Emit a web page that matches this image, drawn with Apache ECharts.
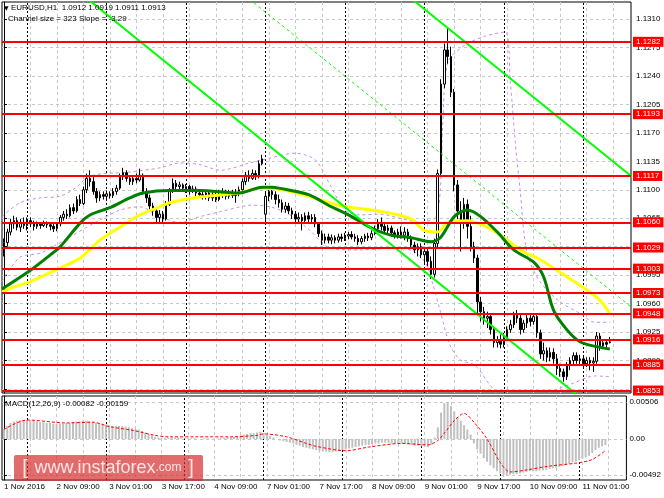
<!DOCTYPE html>
<html><head><meta charset="utf-8">
<script src="https://cdn.jsdelivr.net/npm/echarts@6/dist/echarts.min.js"></script>
<style>html,body{margin:0;padding:0;background:#fff}#c{width:664px;height:498px}</style>
</head><body><div id="c"></div>
<script>
// ---- data (bar index = hour since 1 Nov 17:00, H1 bars) ----
const opens = [1.1022,1.1035,1.1048,1.1058,1.1062,1.1054,1.1060,1.1056,1.1062,1.1058,1.1055,1.1058,1.1056,1.1059,1.1057,1.1055,1.1052,1.1058,1.1066,1.1070,1.1068,1.1078,1.1074,1.1088,1.1083,1.1100,1.1114,1.1110,1.1098,1.1090,1.1094,1.1092,1.1095,1.1093,1.1098,1.1102,1.1116,1.1121,1.1114,1.1110,1.1114,1.1112,1.1118,1.1098,1.1090,1.1080,1.1074,1.1066,1.1070,1.1064,1.1082,1.1098,1.1108,1.1104,1.1106,1.1102,1.1104,1.1099,1.1101,1.1096,1.1094,1.1092,1.1096,1.1090,1.1094,1.1088,1.1093,1.1096,1.1092,1.1097,1.1093,1.1096,1.1100,1.1110,1.1118,1.1114,1.1120,1.1116,1.1132,1.1070,1.1092,1.1098,1.1094,1.1088,1.1084,1.1076,1.1080,1.1074,1.1070,1.1064,1.1066,1.1062,1.1068,1.1064,1.1066,1.1058,1.1046,1.1038,1.1042,1.1038,1.1041,1.1038,1.1042,1.1040,1.1043,1.1045,1.1042,1.1040,1.1036,1.1040,1.1043,1.1041,1.1046,1.1052,1.1060,1.1055,1.1050,1.1053,1.1047,1.1044,1.1048,1.1044,1.1048,1.1040,1.1032,1.1026,1.1030,1.1020,1.1024,1.1012,1.0996,1.1034,1.1120,1.1230,1.1272,1.1264,1.1220,1.1106,1.1074,1.1062,1.1082,1.1055,1.1030,1.1016,1.0962,1.0950,1.0942,1.0944,1.0928,1.0912,1.0915,1.0910,1.0918,1.0928,1.0934,1.0946,1.0942,1.0928,1.0936,1.0942,1.0938,1.0944,1.0924,1.0898,1.0902,1.0894,1.0900,1.0892,1.0880,1.0876,1.0870,1.0884,1.0890,1.0896,1.0890,1.0892,1.0886,1.0890,1.0887,1.0889,1.0920,1.0908,1.0912,1.0912];
const closes = [1.1035,1.1048,1.1058,1.1062,1.1054,1.1060,1.1056,1.1062,1.1058,1.1055,1.1058,1.1056,1.1059,1.1057,1.1055,1.1052,1.1058,1.1066,1.1070,1.1068,1.1078,1.1074,1.1088,1.1083,1.1100,1.1114,1.1110,1.1098,1.1090,1.1094,1.1092,1.1095,1.1093,1.1098,1.1102,1.1116,1.1121,1.1114,1.1110,1.1114,1.1112,1.1118,1.1098,1.1090,1.1080,1.1074,1.1066,1.1070,1.1064,1.1082,1.1098,1.1108,1.1104,1.1106,1.1102,1.1104,1.1099,1.1101,1.1096,1.1094,1.1092,1.1096,1.1090,1.1094,1.1088,1.1093,1.1096,1.1092,1.1097,1.1093,1.1096,1.1100,1.1110,1.1118,1.1114,1.1120,1.1116,1.1132,1.1138,1.1092,1.1098,1.1094,1.1088,1.1084,1.1076,1.1080,1.1074,1.1070,1.1064,1.1066,1.1062,1.1068,1.1064,1.1066,1.1058,1.1046,1.1038,1.1042,1.1038,1.1041,1.1038,1.1042,1.1040,1.1043,1.1045,1.1042,1.1040,1.1036,1.1040,1.1043,1.1041,1.1046,1.1052,1.1060,1.1055,1.1050,1.1053,1.1047,1.1044,1.1048,1.1044,1.1048,1.1040,1.1032,1.1026,1.1030,1.1020,1.1024,1.1012,1.0996,1.1034,1.1120,1.1230,1.1272,1.1264,1.1220,1.1106,1.1074,1.1062,1.1082,1.1055,1.1030,1.1016,1.0962,1.0950,1.0942,1.0944,1.0928,1.0912,1.0915,1.0910,1.0918,1.0928,1.0934,1.0946,1.0942,1.0928,1.0936,1.0942,1.0938,1.0944,1.0924,1.0898,1.0902,1.0894,1.0900,1.0892,1.0880,1.0876,1.0870,1.0884,1.0890,1.0896,1.0890,1.0892,1.0886,1.0890,1.0887,1.0889,1.0920,1.0908,1.0912,1.0910,1.0913];
const highs = [1.1040,1.1052,1.1064,1.1068,1.1066,1.1064,1.1066,1.1066,1.1066,1.1062,1.1061,1.1060,1.1062,1.1061,1.1060,1.1058,1.1060,1.1069,1.1074,1.1076,1.1082,1.1083,1.1092,1.1094,1.1104,1.1120,1.1124,1.1116,1.1102,1.1098,1.1098,1.1099,1.1098,1.1102,1.1106,1.1120,1.1127,1.1124,1.1118,1.1118,1.1120,1.1126,1.1120,1.1102,1.1094,1.1084,1.1078,1.1075,1.1074,1.1086,1.1102,1.1114,1.1112,1.1110,1.1108,1.1107,1.1106,1.1105,1.1104,1.1100,1.1098,1.1099,1.1098,1.1098,1.1097,1.1100,1.1102,1.1100,1.1100,1.1100,1.1101,1.1104,1.1114,1.1122,1.1124,1.1125,1.1124,1.1136,1.1143,1.1098,1.1104,1.1103,1.1098,1.1094,1.1088,1.1085,1.1084,1.1078,1.1074,1.1072,1.1070,1.1072,1.1073,1.1070,1.1070,1.1060,1.1050,1.1046,1.1046,1.1045,1.1044,1.1046,1.1046,1.1047,1.1048,1.1049,1.1046,1.1044,1.1043,1.1046,1.1047,1.1050,1.1056,1.1064,1.1066,1.1060,1.1057,1.1056,1.1050,1.1052,1.1055,1.1054,1.1052,1.1044,1.1036,1.1034,1.1034,1.1028,1.1028,1.1018,1.1040,1.1125,1.1236,1.1280,1.1299,1.1276,1.1224,1.1112,1.1086,1.1090,1.1088,1.1068,1.1036,1.1020,1.0968,1.0956,1.0950,1.0948,1.0932,1.0920,1.0922,1.0924,1.0932,1.0940,1.0950,1.0952,1.0946,1.0940,1.0946,1.0946,1.0948,1.0946,1.0928,1.0912,1.0906,1.0906,1.0905,1.0898,1.0886,1.0880,1.0888,1.0894,1.0900,1.0900,1.0897,1.0896,1.0894,1.0894,1.0894,1.0925,1.0924,1.0916,1.0915,1.0919];
const lows = [1.1018,1.1030,1.1044,1.1052,1.1050,1.1048,1.1052,1.1050,1.1054,1.1050,1.1052,1.1052,1.1054,1.1053,1.1050,1.1048,1.1049,1.1055,1.1062,1.1064,1.1066,1.1070,1.1072,1.1080,1.1081,1.1096,1.1104,1.1094,1.1084,1.1086,1.1088,1.1088,1.1089,1.1090,1.1094,1.1100,1.1112,1.1110,1.1106,1.1106,1.1108,1.1110,1.1094,1.1084,1.1076,1.1068,1.1060,1.1058,1.1058,1.1062,1.1080,1.1096,1.1100,1.1100,1.1098,1.1096,1.1094,1.1096,1.1092,1.1090,1.1088,1.1088,1.1086,1.1086,1.1085,1.1086,1.1090,1.1088,1.1089,1.1090,1.1084,1.1092,1.1098,1.1106,1.1110,1.1112,1.1112,1.1114,1.1130,1.1060,1.1086,1.1088,1.1082,1.1078,1.1072,1.1072,1.1070,1.1064,1.1058,1.1060,1.1050,1.1058,1.1060,1.1058,1.1054,1.1042,1.1032,1.1034,1.1034,1.1033,1.1034,1.1035,1.1036,1.1037,1.1039,1.1039,1.1036,1.1032,1.1033,1.1036,1.1037,1.1038,1.1044,1.1050,1.1050,1.1046,1.1045,1.1043,1.1040,1.1040,1.1040,1.1038,1.1036,1.1028,1.1022,1.1018,1.1016,1.1010,1.1006,1.0990,1.0992,1.1028,1.1116,1.1225,1.1255,1.1214,1.1098,1.1064,1.1024,1.1052,1.1040,1.1024,1.1010,1.0948,1.0938,1.0934,1.0930,1.0922,1.0906,1.0906,1.0905,1.0906,1.0914,1.0924,1.0930,1.0936,1.0922,1.0924,1.0930,1.0932,1.0934,1.0918,1.0892,1.0890,1.0888,1.0889,1.0886,1.0872,1.0870,1.0864,1.0866,1.0878,1.0884,1.0886,1.0884,1.0882,1.0882,1.0878,1.0876,1.0886,1.0902,1.0904,1.0905,1.0911];
const macdHist = [0.0014,0.0018,0.0022,0.0024,0.0025,0.0026,0.0026,0.0026,0.0025,0.0025,0.0024,0.0023,0.0023,0.0022,0.0022,0.0021,0.0021,0.0021,0.0021,0.0022,0.0022,0.0023,0.0024,0.0024,0.0025,0.0025,0.0024,0.0023,0.0022,0.0022,0.0021,0.0020,0.0019,0.0018,0.0018,0.0018,0.0018,0.0017,0.0016,0.0015,0.0014,0.0013,0.0011,0.0009,0.0007,0.0005,0.0003,0.0002,0.0001,0.0001,0.0002,0.0002,0.0002,0.0002,0.0001,0.0001,0.0001,0.0001,0.0001,0.0000,0.0000,0.0001,0.0001,0.0000,0.0000,0.0001,0.0001,0.0002,0.0002,0.0003,0.0003,0.0004,0.0005,0.0006,0.0007,0.0008,0.0008,0.0009,0.0010,0.0008,0.0006,0.0004,0.0002,0.0000,-0.0002,-0.0003,-0.0004,-0.0005,-0.0006,-0.0008,-0.0009,-0.0011,-0.0012,-0.0013,-0.0014,-0.0015,-0.0016,-0.0017,-0.0017,-0.0018,-0.0018,-0.0017,-0.0016,-0.0015,-0.0014,-0.0013,-0.0012,-0.0011,-0.0010,-0.0009,-0.0008,-0.0008,-0.0007,-0.0006,-0.0006,-0.0005,-0.0005,-0.0005,-0.0006,-0.0006,-0.0006,-0.0006,-0.0007,-0.0007,-0.0008,-0.0009,-0.0009,-0.0010,-0.0010,-0.0011,-0.0008,0.0002,0.0016,0.0036,0.0049,0.00506,0.0045,0.0038,0.0030,0.0025,0.0019,0.0013,0.0006,-0.0006,-0.0014,-0.0020,-0.0026,-0.0031,-0.0036,-0.0040,-0.0044,-0.0047,-0.0049,-0.00492,-0.0049,-0.0048,-0.0048,-0.0047,-0.0046,-0.0045,-0.0044,-0.0044,-0.0044,-0.0043,-0.0043,-0.0042,-0.0041,-0.0040,-0.0039,-0.0038,-0.0037,-0.0035,-0.0034,-0.0032,-0.0031,-0.0029,-0.0027,-0.0025,-0.0023,-0.0019,-0.0015,-0.0012,-0.0010,-0.00082];
const macdSignal = [[0,0.0013],[7,0.0026],[19,0.0022],[27,0.0023],[32,0.0017],[39,0.0012],[46,0.0005],[50,0.0003],[59,0.0003],[69,0.0003],[77,0.0005],[79,0.0007],[86,0.0003],[92,-0.0006],[95,-0.0010],[104,-0.0016],[111,-0.0011],[121,-0.0006],[129,-0.0008],[132,-0.0002],[134,0.0008],[137,0.0025],[140,0.0035],[143,0.0023],[147,0.0000],[151,-0.0032],[154,-0.0045],[158,-0.0043],[166,-0.0037],[174,-0.0033],[179,-0.0028],[183,-0.00159]];
const maGreen = [[-0.6,1.0978],[8,1.1001],[14,1.1020],[17,1.1030],[23,1.1059],[26,1.1069],[32,1.1078],[38,1.1090],[42,1.1096],[50,1.1099],[59,1.1099],[71,1.1096],[78,1.1103],[81,1.1103],[83,1.1102],[92,1.1094],[98,1.1081],[105,1.1067],[111,1.1053],[117,1.1044],[123,1.1041],[129,1.1036],[132,1.1042],[136,1.1067],[140,1.1075],[144,1.1067],[149,1.1048],[154,1.1026],[160,1.1011],[163,1.0993],[166,1.0952],[170,1.0928],[174,1.0913],[179,1.0907],[183,1.0904]];
const maYellow = [[-0.6,1.0974],[2,1.0979],[8,1.0987],[17,1.1004],[23,1.1016],[29,1.1038],[35,1.1054],[41,1.1069],[47,1.1079],[50,1.1084],[59,1.1091],[71,1.1096],[77,1.1102],[83,1.1101],[92,1.1092],[101,1.1081],[111,1.1075],[117,1.1071],[123,1.1064],[127,1.1050],[131,1.1048],[134,1.1060],[140,1.1062],[146,1.1054],[152,1.1038],[156,1.1026],[162,1.1014],[170,1.0993],[176,1.0977],[180,1.0964],[183,1.0948]];
const bandUpper = [[-0.6,1.1067],[4.8,1.1084],[10.9,1.1090],[16.9,1.1092],[21.5,1.1102],[26,1.1117],[38.1,1.1122],[47.1,1.1127],[53.2,1.1133],[59.2,1.1131],[65.3,1.1124],[74.3,1.1133],[80.4,1.1139],[87.9,1.1145],[94,1.1137],[98.5,1.1106],[103,1.1075],[107.6,1.1069],[113.6,1.1070],[119.6,1.1065],[125.7,1.1060],[130.8,1.1069],[132.6,1.1186],[134.1,1.1257],[139.3,1.1278],[145.3,1.1289],[151.4,1.1294],[152.9,1.1235],[154.4,1.1161],[155.9,1.1100],[158,1.1022],[161.9,1.0987],[168,1.0962],[174,1.0948],[178.5,1.0937],[183.1,1.0937]];
const bandLower = [[-0.6,1.0987],[4.8,1.1017],[10.9,1.1022],[19.9,1.1042],[29,1.1063],[35,1.1075],[41.1,1.1079],[47.1,1.1067],[53.2,1.1060],[59.2,1.1067],[65.3,1.1073],[71.3,1.1079],[74.3,1.1081],[80.4,1.1079],[86.4,1.1069],[92.4,1.1050],[98.5,1.1028],[107.6,1.1026],[116.6,1.1028],[122.7,1.1026],[127.2,1.1011],[129.6,1.0983],[131.7,1.0952],[134.7,1.0909],[137.8,1.0891],[142.3,1.0884],[146.8,1.0860],[151.4,1.0841],[155.9,1.0841],[161.9,1.0847],[166.5,1.0854],[171.9,1.0862],[178.5,1.0871],[183.1,1.0870]];
const levels = [1.1282,1.1193,1.1117,1.1060,1.1029,1.1003,1.0973,1.0948,1.0916,1.0885,1.0853];
const lastPrice = 1.0913;
const lowerChannel = [[20,1.1352],[180,1.0825]];
const midChannel = [[60,1.1381],[190,1.0954]];
const upperChannel = [[100,1.1411],[190,1.1115]];
const priceTicks = [1.0855,1.0890,1.0925,1.0960,1.0995,1.1030,1.1065,1.1100,1.1135,1.1170,1.1205,1.1240,1.1275,1.1310];
const macdTicks = [-0.00492,0,0.00506];
const dateLabels = ['1 Nov 2016','2 Nov 09:00','3 Nov 01:00','3 Nov 17:00','4 Nov 09:00','7 Nov 01:00','7 Nov 17:00','8 Nov 09:00','9 Nov 01:00','9 Nov 17:00','10 Nov 09:00','11 Nov 01:00'];
const dateLabelBars = [0,16,32,48,64,80,96,112,128,144,160,176];
const daySeparatorBars = [7,31,55,79,103,127,151,175];

// ---- chart ----
const FONT = 'Liberation Sans';
const gridBars = [];
for (let b = 0; b <= 184; b += 8) gridBars.push(b);
const candles = opens.map((o, i) => [i, o, closes[i], lows[i], highs[i]]);
const dash = {color: '#c8c8c8', width: 1, type: [3, 3]};
const sepLine = {color: '#000', width: 1, type: [2, 2]};
const boxLabel = (bg) => ({position: 'end', distance: 2, formatter: p => Number(p.value).toFixed(4), color: '#fff', backgroundColor: bg,
  padding: [1, 3, 0, 3], fontSize: 8, fontFamily: FONT, lineHeight: 9});

const chart = echarts.init(document.getElementById('c'), null, {renderer: 'canvas'});
const xBase = {type: 'value', min: -0.6, max: 189.4, axisLine: {show: false},
  axisTick: {show: false, customValues: gridBars}, splitLine: {show: true, lineStyle: dash}};
chart.setOption({
  animation: false,
  backgroundColor: '#fff',
  textStyle: {fontFamily: FONT},
  grid: [
    {left: 2, right: 33, top: 2, height: 391, show: true, borderColor: '#000', borderWidth: 1},
    {left: 2, right: 33, top: 396, height: 84, show: true, borderColor: '#000', borderWidth: 1}
  ],
  xAxis: [
    Object.assign({}, xBase, {gridIndex: 0, axisLabel: {show: false}}),
    Object.assign({}, xBase, {gridIndex: 1, axisLabel: {show: true, customValues: dateLabelBars, align: 'left', fontSize: 8, fontFamily: FONT, color: '#000', margin: 3,
      formatter: v => dateLabels[dateLabelBars.indexOf(Math.round(v))] || ''}})
  ],
  yAxis: [
    {type: 'value', gridIndex: 0, position: 'right', min: 1.0850, max: 1.1331,
     axisLine: {show: true, lineStyle: {color: '#000'}},
     axisTick: {show: true, customValues: priceTicks, length: 3, lineStyle: {color: '#000'}},
     axisLabel: {customValues: priceTicks, formatter: v => v.toFixed(4), fontSize: 8, fontFamily: FONT, color: '#000', margin: 5},
     splitLine: {show: true, lineStyle: dash}},
    {type: 'value', gridIndex: 1, position: 'right', min: -0.0056, max: 0.00588,
     axisLine: {show: true, lineStyle: {color: '#000'}},
     axisTick: {show: true, customValues: macdTicks, length: 3, lineStyle: {color: '#000'}},
     axisLabel: {customValues: macdTicks, formatter: v => (v === 0 ? '0.00' : v.toFixed(5)), fontSize: 8, fontFamily: FONT, color: '#000', margin: 3},
     splitLine: {show: true, lineStyle: dash}}
  ],
  series: [
    {type: 'line', name: 'bandUpper', data: bandUpper, xAxisIndex: 0, yAxisIndex: 0, showSymbol: false, smooth: 0.3,
     lineStyle: {color: '#c58ee8', width: 1, type: [3, 3]}, z: 1,
     markLine: {silent: true, symbol: 'none', z: 1, label: {show: false}, precision: 4,
       data: daySeparatorBars.map(b => ({xAxis: b})), lineStyle: sepLine}},
    {type: 'line', name: 'bandLower', data: bandLower, xAxisIndex: 0, yAxisIndex: 0, showSymbol: false, smooth: 0.3,
     lineStyle: {color: '#c58ee8', width: 1, type: [3, 3]}, z: 1},
    {type: 'candlestick', name: 'EURUSD', data: candles, xAxisIndex: 0, yAxisIndex: 0, barWidth: 2, z: 2,
     itemStyle: {color: '#ffffff', color0: '#000000', borderColor: '#000000', borderColor0: '#000000', borderWidth: 1}},
    {type: 'line', name: 'maYellow', data: maYellow, xAxisIndex: 0, yAxisIndex: 0, showSymbol: false, smooth: 0.3,
     lineStyle: {color: '#ffff00', width: 3}, z: 3,
     markLine: {silent: true, symbol: 'none', z: 4, precision: 4,
       lineStyle: {opacity: 0}, label: boxLabel('#000'),
       data: [{yAxis: lastPrice}]}},
    {type: 'line', name: 'maGreen', data: maGreen, xAxisIndex: 0, yAxisIndex: 0, showSymbol: false, smooth: 0.3,
     lineStyle: {color: '#008000', width: 3}, z: 3},
    {type: 'line', name: 'lowerChannel', data: lowerChannel, xAxisIndex: 0, yAxisIndex: 0, showSymbol: false,
     lineStyle: {color: '#00ff00', width: 2}, z: 4},
    {type: 'line', name: 'midChannel', data: midChannel, xAxisIndex: 0, yAxisIndex: 0, showSymbol: false,
     lineStyle: {color: '#00ff00', width: 1, type: [3, 3]}, z: 4},
    {type: 'line', name: 'upperChannel', data: upperChannel, xAxisIndex: 0, yAxisIndex: 0, showSymbol: false,
     lineStyle: {color: '#00ff00', width: 2}, z: 4,
     markLine: {silent: true, symbol: 'none', z: 5, precision: 4,
       lineStyle: {color: '#ff0000', width: 2, type: 'solid'}, label: boxLabel('#ff0000'),
       data: levels.map(v => ({yAxis: v}))}},
    {type: 'bar', name: 'MACD', data: macdHist.map((v, i) => [i, v]), xAxisIndex: 1, yAxisIndex: 1, barWidth: 2,
     itemStyle: {color: '#c0c0c0'}, z: 2,
     markLine: {silent: true, symbol: 'none', z: 1, label: {show: false}, precision: 4,
       data: daySeparatorBars.map(b => ({xAxis: b})), lineStyle: sepLine}},
    {type: 'line', name: 'Signal', data: macdSignal, xAxisIndex: 1, yAxisIndex: 1, showSymbol: false, smooth: 0.3,
     lineStyle: {color: '#ff0000', width: 1, type: [3, 2]}, z: 3}
  ],
  graphic: [
    {type: 'text', x: 4, y: 8, z: 50, style: {text: '▼', fontSize: 6, fontFamily: 'DejaVu Sans', fill: '#000', verticalAlign: 'middle'}},
    {type: 'text', x: 11, y: 8, z: 50, style: {text: 'EURUSD,H1  1.0912 1.0919 1.0911 1.0913', fontSize: 8, fontFamily: FONT, fill: '#000', verticalAlign: 'middle'}},
    {type: 'text', x: 8, y: 19, z: 50, style: {text: 'Channel size = 323 Slope = -3.29', fontSize: 8, fontFamily: FONT, fill: '#000', verticalAlign: 'middle'}},
    {type: 'text', x: 5, y: 404, z: 50, style: {text: 'MACD(12,26,9) -0.00082 -0.00159', fontSize: 8, fontFamily: FONT, fill: '#000', verticalAlign: 'middle'}},
    {type: 'rect', x: 14, y: 455, z: 60, shape: {width: 189, height: 26, r: 2}, style: {fill: 'rgba(214,44,44,0.7)'}},
    {type: 'text', x: 108, y: 468, z: 61, style: {
      text: '{b|[}  {w|www.instaforex}{c|.com}  {b|]}', align: 'center', verticalAlign: 'middle',
      rich: {
        b: {fontSize: 20, fontFamily: FONT, fill: '#fbe4e4'},
        w: {fontSize: 18, fontFamily: FONT, fill: '#fbe4e4'},
        c: {fontSize: 12, fontFamily: FONT, fill: '#fbe4e4'}
      }}}
  ]
});
</script>
</body></html>
